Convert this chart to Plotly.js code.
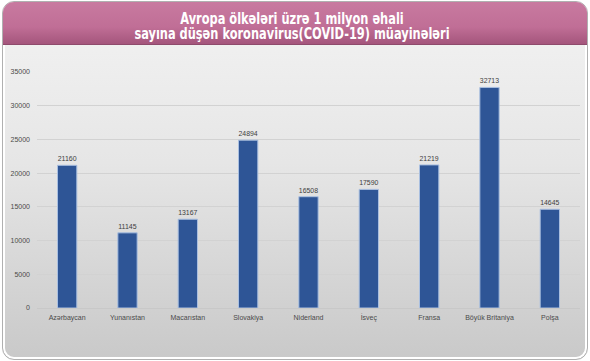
<!DOCTYPE html>
<html>
<head>
<meta charset="utf-8">
<script src="https://cdn.plot.ly/plotly-3.0.1.min.js"></script>
<style>
  html, body { margin: 0; padding: 0; width: 590px; height: 361px; overflow: hidden; background: #ffffff; }
  #frame {
    position: absolute; left: 2px; top: 1px; width: 584px; height: 357px;
    border: 1px solid #b0b0b0; border-radius: 12px;
    background: linear-gradient(to bottom, #f3f3f3 0%, #e6e6e6 45%, #c9c9c9 100%);
    overflow: hidden;
    box-shadow: inset 0 0 0 2px #ffffff;
  }
  #banner {
    position: absolute; left: 0; top: 0; width: 100%; height: 42px;
    background: linear-gradient(to bottom, #c87aa0 0%, #c06e96 60%, #a4557c 100%);
    border-bottom: 1px solid #8e4a6c;
  }
  #chart { position: absolute; left: 0; top: 0; width: 590px; height: 361px; }
  #chart .gtitle { font-stretch: condensed !important; transform: scaleX(0.8); transform-origin: 292px 0px; }
</style>
</head>
<body>
<div id="frame"><div id="banner"></div></div>
<div id="chart"></div>
<script>
const countries = ["Azərbaycan", "Yunanıstan", "Macarıstan", "Slovakiya", "Niderland", "İsveç", "Fransa", "Böyük Britaniya", "Polşa"];
const tests = [21160, 11145, 13167, 24894, 16508, 17590, 21219, 32713, 14645];
const yTicks = [0, 5000, 10000, 15000, 20000, 25000, 30000, 35000];

const trace = {
  type: "bar",
  x: countries,
  y: tests,
  marker: { color: "#2e5596", line: { color: "#a9bfe0", width: 1 } },
  text: tests.map(String),
  textposition: "outside",
  texttemplate: "%{text}",
  textfont: { family: "Liberation Sans, Arial, sans-serif", size: 7, color: "#404040" },
  cliponaxis: false,
  hoverinfo: "none"
};

const layout = {
  width: 590, height: 361,
  paper_bgcolor: "rgba(0,0,0,0)",
  plot_bgcolor: "rgba(0,0,0,0)",
  margin: { l: 37, r: 10, t: 72, b: 53 },
  showlegend: false,
  bargap: 0.68,
  title: {
    text: "Avropa ölkələri üzrə 1 milyon əhali<br>sayına düşən koronavirus(COVID-19) müayinələri",
    font: { family: "DejaVu Sans", size: 15.5, weight: "bold", color: "#ffffff" },
    x: 0.4949, xanchor: "center", y: 0.934, yanchor: "middle", yref: "container"
  },
  xaxis: {
    type: "category",
    showgrid: false, zeroline: false, showline: false,
    ticks: "", ticklen: 0,
    ticklabelstandoff: 4,
    tickfont: { family: "Liberation Sans, Arial, sans-serif", size: 7, color: "#4a4a4a" },
    fixedrange: true
  },
  yaxis: {
    range: [0, 35000],
    tickvals: yTicks,
    ticktext: yTicks.map(String),
    showgrid: true, gridcolor: "#d2d2d2", gridwidth: 1,
    zeroline: true, zerolinecolor: "#c8c8c8", zerolinewidth: 1,
    showline: false, ticks: "",
    ticklabelstandoff: 6,
    tickfont: { family: "Liberation Sans, Arial, sans-serif", size: 7, color: "#4a4a4a" },
    fixedrange: true
  }
};

Plotly.newPlot("chart", [trace], layout, { staticPlot: true, displayModeBar: false }).then(function () {
  // tighten the title's line spacing to match the reference banner
  const t = document.querySelector("#chart .gtitle");
  if (!t) return;
  t.setAttribute("y", "19");
  const lines = t.querySelectorAll("tspan.line");
  if (lines.length === 2) {
    lines[0].setAttribute("dy", "0");
    lines[1].setAttribute("dy", "15");
  }
  // scale horizontally so the long line spans the reference width
  const w = lines.length === 2 ? lines[1].getComputedTextLength() : t.getBBox().width;
  if (w > 0) t.style.transform = "scaleX(" + (315 / w).toFixed(3) + ")";
});
</script>
</body>
</html>
